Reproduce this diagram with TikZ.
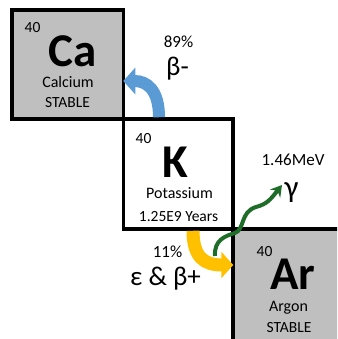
\documentclass[tikz,border=0pt]{standalone}
\usepackage{fontspec}
\setmainfont{Carlito}
\usepackage{xcolor}
\usepackage{tikz}
\usetikzlibrary{
	arrows.meta,
	positioning
}

\definecolor{boxgray}{RGB}{191,191,191}
\definecolor{betablue}{RGB}{91,155,213}
\definecolor{ecgold}{RGB}{255,192,0}
\definecolor{gamgreen}{RGB}{30,110,42}

\begin{document}
\begin{tikzpicture}[x=1pt, y=-1pt,
		elem/.style={draw=black, line width=3.5pt, rectangle, inner sep=0pt},
		txt/.style={anchor=base, inner sep=0pt},
		massnum/.style={txt, font=\fontsize{15.5}{17}\selectfont},
		symb/.style={txt, font=\fontsize{47}{50}\selectfont\bfseries},
		elname/.style={txt, font=\fontsize{16}{18}\selectfont},
		info/.style={txt, font=\fontsize{15.5}{18}\selectfont},
		pct/.style={txt, font=\fontsize{17}{19}\selectfont},
		decay/.style={txt, font=\fontsize{27}{30}\selectfont}]
		\useasboundingbox (0,0) rectangle (337,339);
		\clip (0,0) rectangle (337,339);
		% element boxes
		\node[elem, fill=boxgray, minimum width=111.5pt, minimum height=109pt] (ca) at (67.75,64.5) {};
		\node[elem, fill=white, minimum width=109.5pt, minimum height=110pt] (k) at (178.25,174) {};
		\node[elem, fill=boxgray, minimum width=112pt, minimum height=116pt] (ar) at (289,287) {};
		\node[massnum] (ca-num) at (32.5,33) {40};
		\node[symb] (ca-sym) at (72.5,67) {Ca};
		\node[elname] (ca-name) at (68,88) {Calcium};
		\node[info] (ca-stab) at (67.5,108) {STABLE};
		\node[massnum] (k-num) at (143.5,143) {40};
		\node[symb] (k-sym) at (175,177) {K};
		\node[elname] (k-name) at (179.5,198) {Potassium};
		\node[info] (k-life) at (178.5,221) {1.25E9 Years};
		\node[massnum] (ar-num) at (264.5,256) {40};
		\node[symb] (ar-sym) at (293,289) {Ar};
		\node[elname] (ar-name) at (288.5,311) {Argon};
		\node[info] (ar-stab) at (289,332) {STABLE};
		% decay labels
		\node[pct] (beta-pct) at (178.5,48) {89\%};
		\node[decay] (beta-lbl) at (177.5,76) {β-};
		\node[pct] (gam-en) at (293,165) {1.46MeV};
		\node[decay, font=\fontsize{31}{34}\selectfont] (gam-lbl) at (291.5,197) {γ};
		\node[pct] (ec-pct) at (167.5,257) {11\%};
		\node[decay] (ec-lbl) at (165.5,285) {ε \& β+};
		% decay arrows
		\draw[betablue, line width=12pt, -{Triangle[width=26pt, length=12pt]}]
		([xshift=-19.25pt]k.north) .. controls (159,90) and (147,81) .. ([xshift=-2pt, yshift=-16.5pt]ca.east);
		\draw[ecgold, line width=13pt, -{Triangle[width=26pt, length=12pt]}]
		([xshift=14.75pt]k.south) .. controls (193,258) and (205,265) .. ([xshift=2pt, yshift=22pt]ar.west);
		\coordinate (gam-start) at (215,256);
		\coordinate (gam-tip) at (282,185);
		\draw[gamgreen, line width=4pt, -{Stealth[width=13pt, length=11pt]}]
		(gam-start) .. controls (214,240) and (225,236) .. (235,233)
		.. controls (245,229) and (240,212) .. (256,207)
		.. controls (267,204) and (270,200) .. (gam-tip);
	\end{tikzpicture}
\end{document}
